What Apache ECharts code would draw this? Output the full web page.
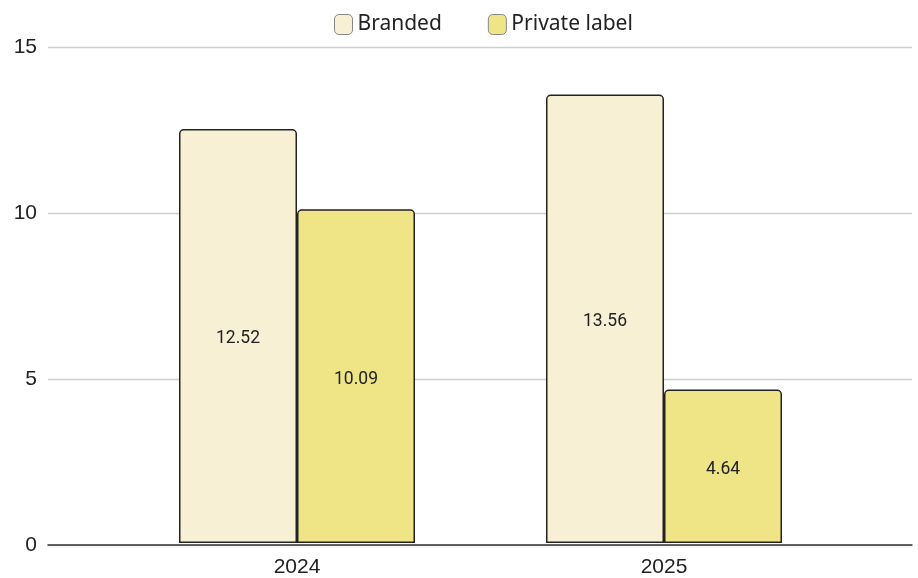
<!DOCTYPE html>
<html>
<head>
<meta charset="utf-8">
<script src="https://cdn.jsdelivr.net/npm/echarts@6/dist/echarts.min.js"></script>
<style>
  html, body { margin: 0; padding: 0; background: #fff; }
  #chart { width: 918px; height: 578px; }
</style>
</head>
<body>
<div id="chart"></div>
<script>
// Data
const years = ['2024', '2025'];
const branded = [12.52, 13.56];
const privateLabel = [10.09, 4.64];
const seriesNames = ['Branded', 'Private label'];
const yTicks = { min: 0, max: 15, interval: 5 };

const chart = echarts.init(document.getElementById('chart'));

const barLabel = {
  show: true,
  position: 'inside',
  offset: [0, 3],
  color: '#222',
  fontFamily: 'Roboto',
  fontSize: 17.5,
  formatter: p => p.value.toFixed(2)
};

chart.setOption({
  animation: false,
  legend: {
    top: 9,
    left: 329,
    itemWidth: 18,
    itemHeight: 20,
    itemGap: 46,
    icon: 'roundRect',
    textStyle: { fontFamily: 'Noto Sans', fontSize: 21, color: '#222' },
    itemStyle: { borderColor: '#888', borderWidth: 1 },
    data: seriesNames
  },
  grid: [
    // background frame: gridlines, y labels and baseline across the full width
    { left: 48, right: 6, top: 47, bottom: 33 },
    // bar area
    { left: 113.5, right: 70.5, top: 47, bottom: 33 }
  ],
  xAxis: [
    {
      gridIndex: 0, type: 'category', data: years,
      axisLine: { show: true, lineStyle: { color: '#333', width: 1.5 } },
      axisTick: { show: false }, axisLabel: { show: false }, z: 5
    },
    {
      gridIndex: 1, type: 'category', data: years,
      axisLine: { show: false }, axisTick: { show: false },
      axisLabel: { color: '#222', fontFamily: 'Liberation Sans', fontSize: 21, margin: 14 }
    }
  ],
  yAxis: [
    {
      gridIndex: 0, type: 'value', min: yTicks.min, max: yTicks.max, interval: yTicks.interval,
      axisLine: { show: false }, axisTick: { show: false },
      axisLabel: { color: '#222', fontFamily: 'Liberation Sans', fontSize: 21, margin: 11 },
      splitLine: { lineStyle: { color: '#cfcfcf', width: 1.3 } }
    },
    {
      gridIndex: 1, type: 'value', min: yTicks.min, max: yTicks.max, interval: yTicks.interval,
      show: false, splitLine: { show: false }
    }
  ],
  series: [
    {
      name: seriesNames[0], type: 'bar', xAxisIndex: 1, yAxisIndex: 1,
      data: branded, barWidth: 118, barGap: '0%',
      itemStyle: { color: '#F8F0D4', borderColor: '#222', borderWidth: 1.5, borderRadius: [4, 4, 0, 0] },
      label: barLabel
    },
    {
      name: seriesNames[1], type: 'bar', xAxisIndex: 1, yAxisIndex: 1,
      data: privateLabel, barWidth: 118, barGap: '0%',
      itemStyle: { color: '#EFE486', borderColor: '#222', borderWidth: 1.5, borderRadius: [4, 4, 0, 0] },
      label: barLabel
    }
  ]
});
</script>
</body>
</html>
